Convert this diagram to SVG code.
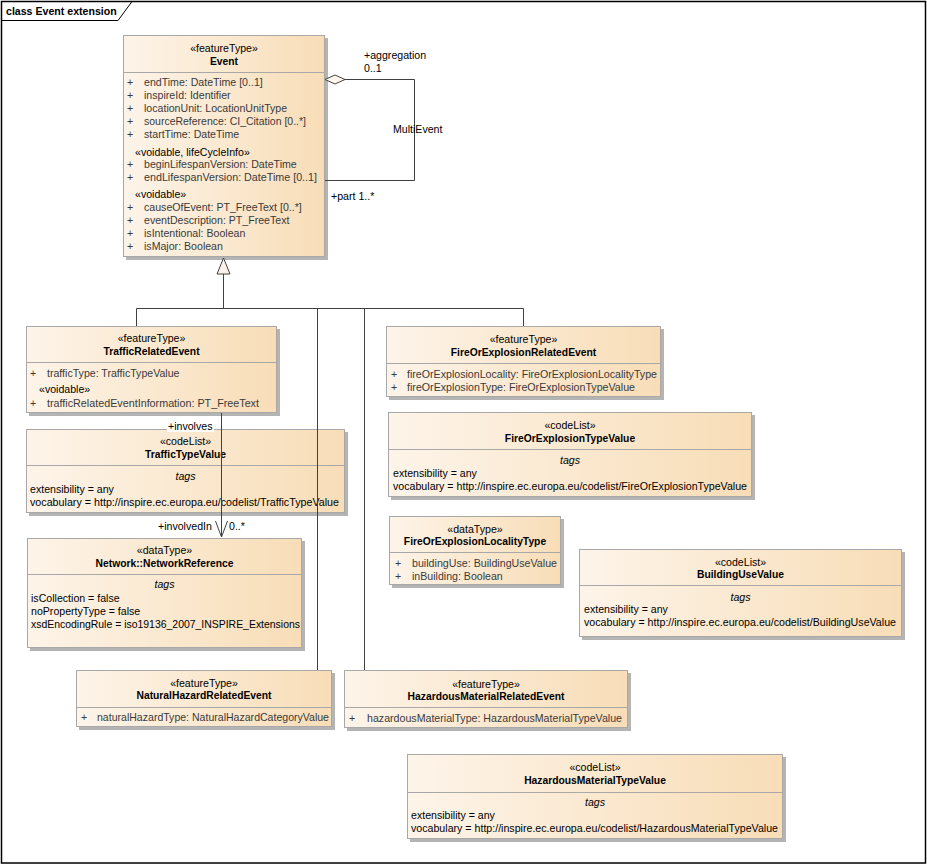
<svg xmlns="http://www.w3.org/2000/svg" width="927" height="865" viewBox="0 0 927 865">
<defs>
<linearGradient id="g" x1="0" y1="0" x2="1" y2="0">
<stop offset="0" stop-color="#FDF4E9"/>
<stop offset="1" stop-color="#F8DDB7"/>
</linearGradient>
</defs>
<style>
text{font-family:"Liberation Sans",Arial,sans-serif;font-size:10.6px;fill:#000}
.b{font-weight:bold;font-size:10.3px}
.t{font-weight:bold;font-size:10.6px}
.c{text-anchor:middle}
.i{font-style:italic}
.a{fill:#3a3a3a}
.box{fill:url(#g);stroke:#A8A8A8;stroke-width:1}
.sh{fill:#B4B4B4}
.sep{stroke:#A8A8A8;stroke-width:1}
.ln{fill:none;stroke:#404040;stroke-width:1}
</style>
<rect x="0" y="0" width="927" height="865" fill="#fff"/>
<g id="frame">
<rect x="1.5" y="1.5" width="924" height="861.5" fill="none" stroke="#000" stroke-width="1.5"/>
<path d="M1.5 20.5 H118 L132 1.5" fill="none" stroke="#000" stroke-width="1"/>
<text x="6" y="15" class="t">class Event extension</text>
</g>

<g id="Event">
<rect class="sh" x="126" y="38" width="202" height="222"/>
<rect class="box" x="123.5" y="35.5" width="201" height="221"/>
<line class="sep" x1="123.5" y1="72.5" x2="324.5" y2="72.5"/>
<text x="224" y="52" class="c">«featureType»</text>
<text x="224" y="65" class="c b">Event</text>
<text x="127" y="86" class="a">+</text><text x="144" y="86" class="a">endTime: DateTime [0..1]</text>
<text x="127" y="99" class="a">+</text><text x="144" y="99" class="a">inspireId: Identifier</text>
<text x="127" y="112" class="a">+</text><text x="144" y="112" class="a">locationUnit: LocationUnitType</text>
<text x="127" y="125" class="a">+</text><text x="144" y="125" class="a" textLength="162" lengthAdjust="spacingAndGlyphs">sourceReference: CI_Citation [0..*]</text>
<text x="127" y="138" class="a">+</text><text x="144" y="138" class="a">startTime: DateTime</text>
<text x="135" y="156">«voidable, lifeCycleInfo»</text>
<text x="127" y="168" class="a">+</text><text x="144" y="168" class="a">beginLifespanVersion: DateTime</text>
<text x="127" y="181" class="a">+</text><text x="144" y="181" class="a" textLength="173" lengthAdjust="spacingAndGlyphs">endLifespanVersion: DateTime [0..1]</text>
<text x="135" y="198">«voidable»</text>
<text x="127" y="211" class="a">+</text><text x="144" y="211" class="a">causeOfEvent: PT_FreeText [0..*]</text>
<text x="127" y="224" class="a">+</text><text x="144" y="224" class="a">eventDescription: PT_FreeText</text>
<text x="127" y="237" class="a">+</text><text x="144" y="237" class="a">isIntentional: Boolean</text>
<text x="127" y="250" class="a">+</text><text x="144" y="250" class="a">isMajor: Boolean</text>
</g>

<g id="TrafficRelatedEvent">
<rect class="sh" x="29" y="329" width="251" height="87"/>
<rect class="box" x="26.5" y="326.5" width="250" height="86"/>
<line class="sep" x1="26.5" y1="362.5" x2="276.5" y2="362.5"/>
<text x="151.5" y="342" class="c">«featureType»</text>
<text x="151.5" y="355" class="c b">TrafficRelatedEvent</text>
<text x="30" y="377" class="a">+</text><text x="47" y="377" class="a">trafficType: TrafficTypeValue</text>
<text x="39" y="393">«voidable»</text>
<text x="30" y="407" class="a">+</text><text x="47" y="407" class="a" textLength="212" lengthAdjust="spacingAndGlyphs">trafficRelatedEventInformation: PT_FreeText</text>
</g>

<g id="TrafficTypeValue">
<rect class="sh" x="29" y="432" width="319" height="84"/>
<rect class="box" x="26.5" y="429.5" width="318" height="83"/>
<line class="sep" x1="26.5" y1="465.5" x2="344.5" y2="465.5"/>
<text x="185.5" y="445" class="c">«codeList»</text>
<text x="185.5" y="458" class="c b">TrafficTypeValue</text>
<text x="185.5" y="480" class="c i">tags</text>
<text x="30" y="493">extensibility = any</text>
<text x="30" y="506" textLength="309" lengthAdjust="spacingAndGlyphs">vocabulary = http://inspire.ec.europa.eu/codelist/TrafficTypeValue</text>
</g>

<g id="NetworkReference">
<rect class="sh" x="30" y="541" width="275" height="110"/>
<rect class="box" x="27.5" y="538.5" width="274" height="109"/>
<line class="sep" x1="27.5" y1="574.5" x2="301.5" y2="574.5"/>
<text x="164.5" y="554" class="c">«dataType»</text>
<text x="164.5" y="567" class="c b">Network::NetworkReference</text>
<text x="164.5" y="588" class="c i">tags</text>
<text x="31" y="602">isCollection = false</text>
<text x="31" y="615">noPropertyType = false</text>
<text x="31" y="628" textLength="269" lengthAdjust="spacingAndGlyphs">xsdEncodingRule = iso19136_2007_INSPIRE_Extensions</text>
</g>

<g id="NaturalHazardRelatedEvent">
<rect class="sh" x="79" y="673" width="256" height="57"/>
<rect class="box" x="76.5" y="670.5" width="255" height="56"/>
<line class="sep" x1="76.5" y1="707.5" x2="331.5" y2="707.5"/>
<text x="204" y="687" class="c">«featureType»</text>
<text x="204" y="699" class="c b">NaturalHazardRelatedEvent</text>
<text x="81" y="721" class="a">+</text><text x="97" y="721" class="a" textLength="232" lengthAdjust="spacingAndGlyphs">naturalHazardType: NaturalHazardCategoryValue</text>
</g>

<g id="HazardousMaterialRelatedEvent">
<rect class="sh" x="347" y="673" width="284" height="58"/>
<rect class="box" x="344.5" y="670.5" width="283" height="57"/>
<line class="sep" x1="344.5" y1="707.5" x2="627.5" y2="707.5"/>
<text x="486" y="688" class="c">«featureType»</text>
<text x="486" y="700" class="c b">HazardousMaterialRelatedEvent</text>
<text x="349" y="722" class="a">+</text><text x="367" y="722" class="a" textLength="255" lengthAdjust="spacingAndGlyphs">hazardousMaterialType: HazardousMaterialTypeValue</text>
</g>

<g id="FireOrExplosionRelatedEvent">
<rect class="sh" x="389" y="329" width="275" height="71"/>
<rect class="box" x="386.5" y="326.5" width="274" height="70"/>
<line class="sep" x1="386.5" y1="363.5" x2="660.5" y2="363.5"/>
<text x="523.5" y="343" class="c">«featureType»</text>
<text x="523.5" y="356" class="c b">FireOrExplosionRelatedEvent</text>
<text x="391" y="378" class="a">+</text><text x="407" y="378" class="a" textLength="250" lengthAdjust="spacingAndGlyphs">fireOrExplosionLocality: FireOrExplosionLocalityType</text>
<text x="391" y="391" class="a">+</text><text x="407" y="391" class="a" textLength="228" lengthAdjust="spacingAndGlyphs">fireOrExplosionType: FireOrExplosionTypeValue</text>
</g>

<g id="FireOrExplosionTypeValue">
<rect class="sh" x="391" y="415" width="364" height="85"/>
<rect class="box" x="388.5" y="412.5" width="363" height="84"/>
<line class="sep" x1="388.5" y1="449.5" x2="751.5" y2="449.5"/>
<text x="570" y="429" class="c">«codeList»</text>
<text x="570" y="442" class="c b">FireOrExplosionTypeValue</text>
<text x="570" y="464" class="c i">tags</text>
<text x="393" y="477">extensibility = any</text>
<text x="393" y="490" textLength="354" lengthAdjust="spacingAndGlyphs">vocabulary = http://inspire.ec.europa.eu/codelist/FireOrExplosionTypeValue</text>
</g>

<g id="FireOrExplosionLocalityType">
<rect class="sh" x="392" y="519" width="172" height="69"/>
<rect class="box" x="389.5" y="516.5" width="171" height="68"/>
<line class="sep" x1="389.5" y1="552.5" x2="560.5" y2="552.5"/>
<text x="475" y="533" class="c">«dataType»</text>
<text x="475" y="545" class="c b">FireOrExplosionLocalityType</text>
<text x="395" y="567" class="a">+</text><text x="412" y="567" class="a" textLength="145" lengthAdjust="spacingAndGlyphs">buildingUse: BuildingUseValue</text>
<text x="395" y="580" class="a">+</text><text x="412" y="580" class="a">inBuilding: Boolean</text>
</g>

<g id="BuildingUseValue">
<rect class="sh" x="582" y="552" width="323" height="88"/>
<rect class="box" x="579.5" y="549.5" width="322" height="87"/>
<line class="sep" x1="579.5" y1="585.5" x2="901.5" y2="585.5"/>
<text x="740.5" y="566" class="c">«codeList»</text>
<text x="740.5" y="578" class="c b">BuildingUseValue</text>
<text x="740.5" y="601" class="c i">tags</text>
<text x="584" y="613">extensibility = any</text>
<text x="584" y="626" textLength="312" lengthAdjust="spacingAndGlyphs">vocabulary = http://inspire.ec.europa.eu/codelist/BuildingUseValue</text>
</g>

<g id="HazardousMaterialTypeValue">
<rect class="sh" x="410" y="757" width="376" height="85"/>
<rect class="box" x="407.5" y="754.5" width="375" height="84"/>
<line class="sep" x1="407.5" y1="792.5" x2="782.5" y2="792.5"/>
<text x="595" y="771" class="c">«codeList»</text>
<text x="595" y="784" class="c b">HazardousMaterialTypeValue</text>
<text x="595" y="806" class="c i">tags</text>
<text x="411" y="819">extensibility = any</text>
<text x="411" y="832" textLength="367" lengthAdjust="spacingAndGlyphs">vocabulary = http://inspire.ec.europa.eu/codelist/HazardousMaterialTypeValue</text>
</g>

<g id="connectors">
<path class="ln" d="M345 79.5 H414.5 V180.5 H325"/>
<path d="M325 79.5 L335 75 L345 79.5 L335 84 Z" fill="#FFF8EE" stroke="#404040" stroke-width="1"/>
<text x="364" y="59">+aggregation</text>
<text x="364" y="72">0..1</text>
<text x="393" y="133">MultiEvent</text>
<text x="331" y="200">+part 1..*</text>
<path class="ln" d="M223.5 274 V308.5 M136.5 326 V308.5 H523.5 V326 M317.5 308.5 V670 M364.5 308.5 V670"/>
<path d="M223.5 258 L217 274 H230 Z" fill="#FBF3EA" stroke="#404040" stroke-width="1"/>
<path class="ln" d="M221.5 413 V537"/>
<path class="ln" d="M215.5 521 L221.5 537 L227.5 521"/>
<rect x="167" y="420" width="47" height="12" fill="#fff"/>
<text x="168" y="430">+involves</text>
<text x="158" y="530">+involvedIn</text>
<text x="229" y="530">0..*</text>
</g>
</svg>
